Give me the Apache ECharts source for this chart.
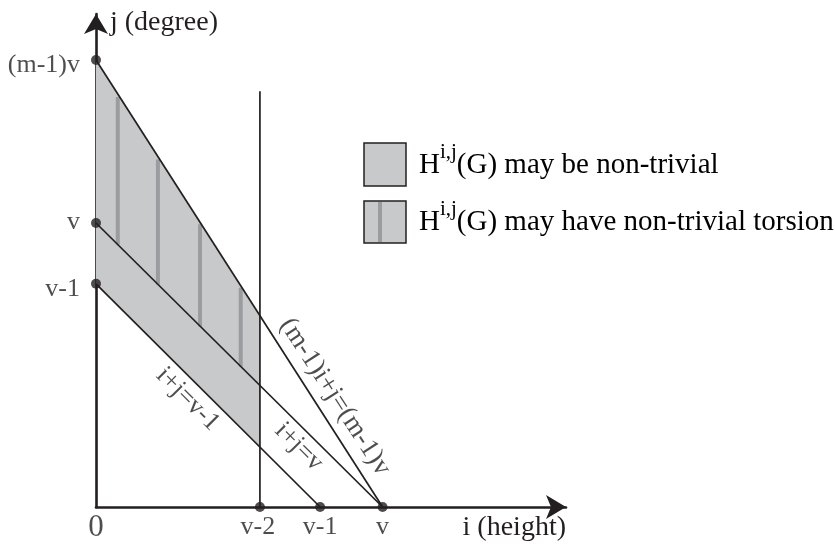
<!DOCTYPE html>
<html><head><meta charset="utf-8">
<script src="https://cdn.jsdelivr.net/npm/echarts@6/dist/echarts.min.js"></script>
<style>html,body{margin:0;padding:0;background:#fff}#c{width:835px;height:546px}</style>
</head><body><div id="c"></div>
<script>
const FONT = '"Liberation Serif","Times New Roman",serif';
const INK = '#231f20';
const GRAY = '#c8c9cb';
const STRIPE = '#9b9ca0';

// tick labels and positions (v = 5 units)
const xTickLabels = ['0', 'v-2', 'v-1', 'v'];
const xTickValues = [0, 2.86, 3.91, 5.0];
const yTickLabels = ['v-1', 'v', '(m-1)v'];
const yTickValues = [3.93, 5.0, 7.87];

// lines
const lineLowV1 = [[0, 3.93], [3.91, 0]];   // i+j=v-1
const lineV = [[0, 5.0], [5.0, 0]];         // i+j=v
const lineM = [[0, 7.87], [5.0, 0]];        // (m-1)i+j=(m-1)v
const lineVert = [[2.86, 0], [2.86, 7.32]]; // i = v-2

// shaded region vertices
const region = [[0, 7.87], [2.86, 3.35], [2.86, 1.06], [0, 3.93]];

// torsion stripes
const stripeX = [0.38, 1.08, 1.815, 2.525];
const stripeTop = [7.22, 6.12, 4.98, 3.86];
const stripeBottom = [4.62, 3.92, 3.18, 2.47];

// line labels
const lineLabels = ['i+j=v-1', 'i+j=v', '(m-1)i+j=(m-1)v'];
const lineLabelX = [1.6, 3.54, 4.17];
const lineLabelY = [1.9, 1.06, 1.94];
const lineLabelAngle = [-45, -45, -57];
const lineLabelSize = [26, 26, 27];

// legend
const legendTexts = ['(G) may be non-trivial', '(G) may have non-trivial torsion'];

const chart = echarts.init(document.getElementById('c'), null, {renderer: 'canvas'});

const lineSeries = (data, w) => ({
  type: 'line', data: data, symbol: 'none', silent: true, z: 3,
  lineStyle: {color: INK, width: w}, animation: false
});

const series = [];
series.push({
  type: 'custom', z: 1, silent: true, animation: false,
  data: region,
  renderItem: function (params, api) {
    if (params.dataIndex !== 0) return null;
    return {
      type: 'polygon',
      shape: {points: region.map(p => api.coord(p))},
      style: {fill: GRAY, stroke: null}
    };
  }
});
stripeX.forEach((x, i) => {
  series.push({
    type: 'line', symbol: 'none', silent: true, z: 2, animation: false,
    data: [[x, stripeTop[i]], [x, stripeBottom[i]]],
    lineStyle: {color: STRIPE, width: 4}
  });
});
series.push(lineSeries(lineLowV1, 1.7));
series.push(lineSeries(lineV, 1.7));
series.push(lineSeries(lineM, 1.7));
series.push(lineSeries(lineVert, 1.7));

// dots
const dots = [];
xTickValues.forEach(v => { if (v !== 0) dots.push([v, 0]); });
yTickValues.forEach(v => dots.push([0, v]));
series.push({
  type: 'scatter', data: dots, symbol: 'circle', symbolSize: 10, z: 5,
  itemStyle: {color: INK}, silent: true, animation: false
});

// x tick labels
const xOffsets = [0, -2, 0, 0];
series.push({
  type: 'scatter', symbolSize: 0, z: 6, silent: true, animation: false,
  data: xTickValues.map((v, i) => ({
    value: [v, 0],
    label: {
      formatter: xTickLabels[i],
      fontSize: i === 0 ? 31 : 26,
      offset: [xOffsets[i], 0]
    }
  })),
  label: {show: true, position: 'bottom', distance: 7, color: INK, fontFamily: FONT, fontSize: 26, lineHeight: 27}
});
// y tick labels
const yOffsets = [5, -1, 5];
series.push({
  type: 'scatter', symbolSize: 0, z: 6, silent: true, animation: false,
  data: yTickValues.map((v, i) => ({
    value: [0, v],
    label: {formatter: yTickLabels[i], offset: [0, yOffsets[i]]}
  })),
  label: {show: true, position: 'left', distance: 16, color: INK, fontFamily: FONT, fontSize: 26}
});
// line labels
series.push({
  type: 'scatter', symbolSize: 0, z: 6, silent: true, animation: false,
  data: lineLabels.map((t, i) => ({
    value: [lineLabelX[i], lineLabelY[i]],
    label: {formatter: t, rotate: lineLabelAngle[i], fontSize: lineLabelSize[i]}
  })),
  label: {show: true, position: 'inside', color: INK, fontFamily: FONT, fontSize: 26}
});

const rich = {
  h: {fontSize: 29, fontFamily: FONT, color: INK, lineHeight: 38, verticalAlign: 'bottom'},
  s: {fontSize: 21, fontFamily: FONT, color: INK, lineHeight: 21, verticalAlign: 'top'},
  t: {fontSize: 29, fontFamily: FONT, color: INK, lineHeight: 38, verticalAlign: 'bottom'}
};

const option = {
  animation: false,
  backgroundColor: '#ffffff',
  grid: {left: 96, top: 14, width: 470, height: 493, containLabel: false},
  xAxis: {
    type: 'value', min: 0, max: 8.2,
    axisLine: {show: true, symbol: ['none', 'arrow'], symbolSize: [18, 20], lineStyle: {color: INK, width: 2.6}},
    axisTick: {show: false}, axisLabel: {show: false}, splitLine: {show: false},
    name: 'i (height)', nameLocation: 'end', nameGap: 0,
    nameTextStyle: {color: INK, fontFamily: FONT, fontSize: 28, align: 'right', verticalAlign: 'top', padding: [7, 0, 0, 0]}
  },
  yAxis: {
    type: 'value', min: 0, max: 8.68,
    axisLine: {show: true, symbol: ['none', 'arrow'], symbolSize: [18, 20], lineStyle: {color: INK, width: 2.6}},
    axisTick: {show: false}, axisLabel: {show: false}, splitLine: {show: false},
    name: 'j (degree)', nameLocation: 'end', nameGap: -9,
    nameTextStyle: {color: INK, fontFamily: FONT, fontSize: 28, align: 'left', verticalAlign: 'middle', padding: [0, 0, 0, 14]}
  },
  graphic: [
    {type: 'rect', shape: {x: 364, y: 143, width: 42, height: 43}, style: {fill: GRAY, stroke: INK, lineWidth: 1.5}},
    {type: 'rect', shape: {x: 364, y: 201, width: 42, height: 42}, style: {fill: GRAY, stroke: INK, lineWidth: 1.5}},
    {type: 'rect', shape: {x: 378, y: 202, width: 4, height: 40}, style: {fill: STRIPE}},
    {type: 'text', x: 419, y: 180, style: {text: '{h|H}{s|i,j}{t|' + legendTexts[0] + '}', rich: rich, verticalAlign: 'bottom'}},
    {type: 'text', x: 419, y: 237, style: {text: '{h|H}{s|i,j}{t|' + legendTexts[1] + '}', rich: rich, verticalAlign: 'bottom'}}
  ],
  series: series
};
chart.setOption(option);
</script>
</body></html>
